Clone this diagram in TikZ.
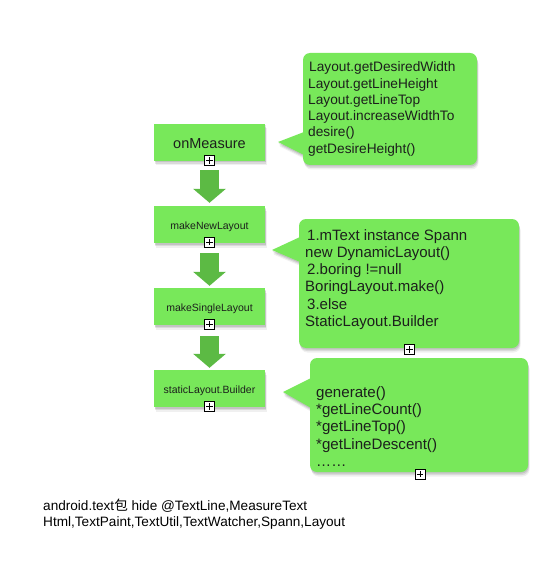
\documentclass[tikz,border=0pt]{standalone}
\usepackage{fontspec}
\setmainfont{Liberation Sans}
\newfontfamily\cjkfont{Noto Sans CJK SC}
\usetikzlibrary{shadows,arrows.meta}
\definecolor{boxgreen}{RGB}{120,232,90}
\definecolor{arrowgreen}{RGB}{92,186,68}
\definecolor{txt}{RGB}{28,32,28}
\begin{document}
\begin{tikzpicture}[x=1pt,y=-1pt,
  softshadow/.style={
    drop shadow={shadow xshift=0.5pt,shadow yshift=-1.5pt,opacity=.10,fill=black},
    drop shadow={shadow xshift=1pt,shadow yshift=-3pt,opacity=.09,fill=black},
    drop shadow={shadow xshift=1.5pt,shadow yshift=-4.5pt,opacity=.06,fill=black}},
  stepbox/.style={fill=boxgreen, minimum width=111pt, minimum height=37pt,
    inner sep=0pt, text=txt, softshadow},
  smalltext/.style={font=\fontsize{10.5}{12}\selectfont, text height=12.5pt, text depth=2.2pt},
  bodybox/.style={fill=boxgreen, rounded corners=7pt, inner sep=0pt, softshadow},
  pointer/.style={fill=boxgreen, softshadow},
  calltext/.style={anchor=north west, inner sep=0pt, align=left, text=txt},
  plusbox/.style={draw=black, fill=white, line width=0.7pt, minimum size=10pt,
    inner sep=0pt, path picture={
      \draw[line width=0.8pt] ([xshift=1.8pt]path picture bounding box.west) -- ([xshift=-1.8pt]path picture bounding box.east);
      \draw[line width=0.8pt] ([yshift=-1.8pt]path picture bounding box.north) -- ([yshift=1.8pt]path picture bounding box.south);}},
  fatarrow/.style={draw=arrowgreen, line width=19pt, -{Triangle[width=32pt,length=14pt]}}
]
\useasboundingbox[fill=white] (0,0) rectangle (555,569);

% left column boxes
\node[stepbox, font=\fontsize{14.5}{16}\selectfont, text height=13pt, text depth=0pt] (onm) at (209.5,142.5) {onMeasure};
\node[stepbox, smalltext] (mnl) at (209.5,224.5) {makeNewLayout};
\node[stepbox, smalltext] (msl) at (209.5,306.5) {makeSingleLayout};
\node[stepbox, smalltext] (slb) at (209.5,388.5) {staticLayout.Builder};

% arrows
\draw[fatarrow] ([yshift=-9pt]onm.south) -- ([yshift=3pt]mnl.north);
\draw[fatarrow] ([yshift=-10pt]mnl.south) -- ([yshift=2pt]msl.north);
\draw[fatarrow] ([yshift=-11pt]msl.south) -- ([yshift=2pt]slb.north);

% callout 1
\coordinate (p1a) at (304,132);
\coordinate (p1tip) at (278,142);
\coordinate (p1b) at (304,155);
\fill[pointer] (p1a) -- (p1tip) -- (p1b) -- cycle;
\node[bodybox, minimum width=174pt, minimum height=112pt] (b1) at (390,109) {};
\node[calltext, font=\fontsize{13.7}{16.3}\selectfont] (t1) at (308,59.6)
  {\rule{0pt}{12pt}\hspace*{1pt}Layout.getDesiredWidth\\Layout.getLineHeight\\Layout.getLineTop\\Layout.increaseWidthTo\\desire()\\getDesireHeight()};

% callout 2
\coordinate (p2a) at (300,237);
\coordinate (p2tip) at (272,250);
\coordinate (p2b) at (300,262);
\fill[pointer] (p2a) -- (p2tip) -- (p2b) -- cycle;
\node[bodybox, minimum width=220pt, minimum height=129pt] (b2) at (409,283.5) {};
\node[calltext, font=\fontsize{15}{17.2}\selectfont] (t2) at (305,228)
  {\rule{0pt}{12pt}\hspace*{2pt}1.mText instance Spann\\new DynamicLayout()\\\hspace*{2pt}2.boring !=null\\BoringLayout.make()\\\hspace*{2pt}3.else\\StaticLayout.Builder};

% callout 3
\coordinate (p3a) at (311,378);
\coordinate (p3tip) at (283,392);
\coordinate (p3b) at (311,408);
\fill[pointer] (p3a) -- (p3tip) -- (p3b) -- cycle;
\node[bodybox, minimum width=218pt, minimum height=114pt] (b3) at (419,415) {};
\node[calltext, font=\fontsize{15.1}{17.3}\selectfont] (t3) at (316,385)
  {\rule{0pt}{12pt}generate()\\*getLineCount()\\*getLineTop()\\*getLineDescent()\\……};

% plus icons
\node[plusbox] (x1) at (209.5,160.5) {};
\node[plusbox] (x2) at (209.5,242) {};
\node[plusbox] (x3) at (209.5,324) {};
\node[plusbox] (x4) at (209.5,406.5) {};
\node[plusbox] (x5) at (409.5,349.5) {};
\node[plusbox] (x6) at (420,474) {};

% bottom note
\node[calltext, font=\fontsize{13.6}{16}\selectfont, text=black] (note) at (43,498)
  {\rule{0pt}{12pt}android.text{\cjkfont 包} hide @TextLine,MeasureText\\Html,TextPaint,TextUtil,TextWatcher,Spann,Layout};
\end{tikzpicture}
\end{document}
